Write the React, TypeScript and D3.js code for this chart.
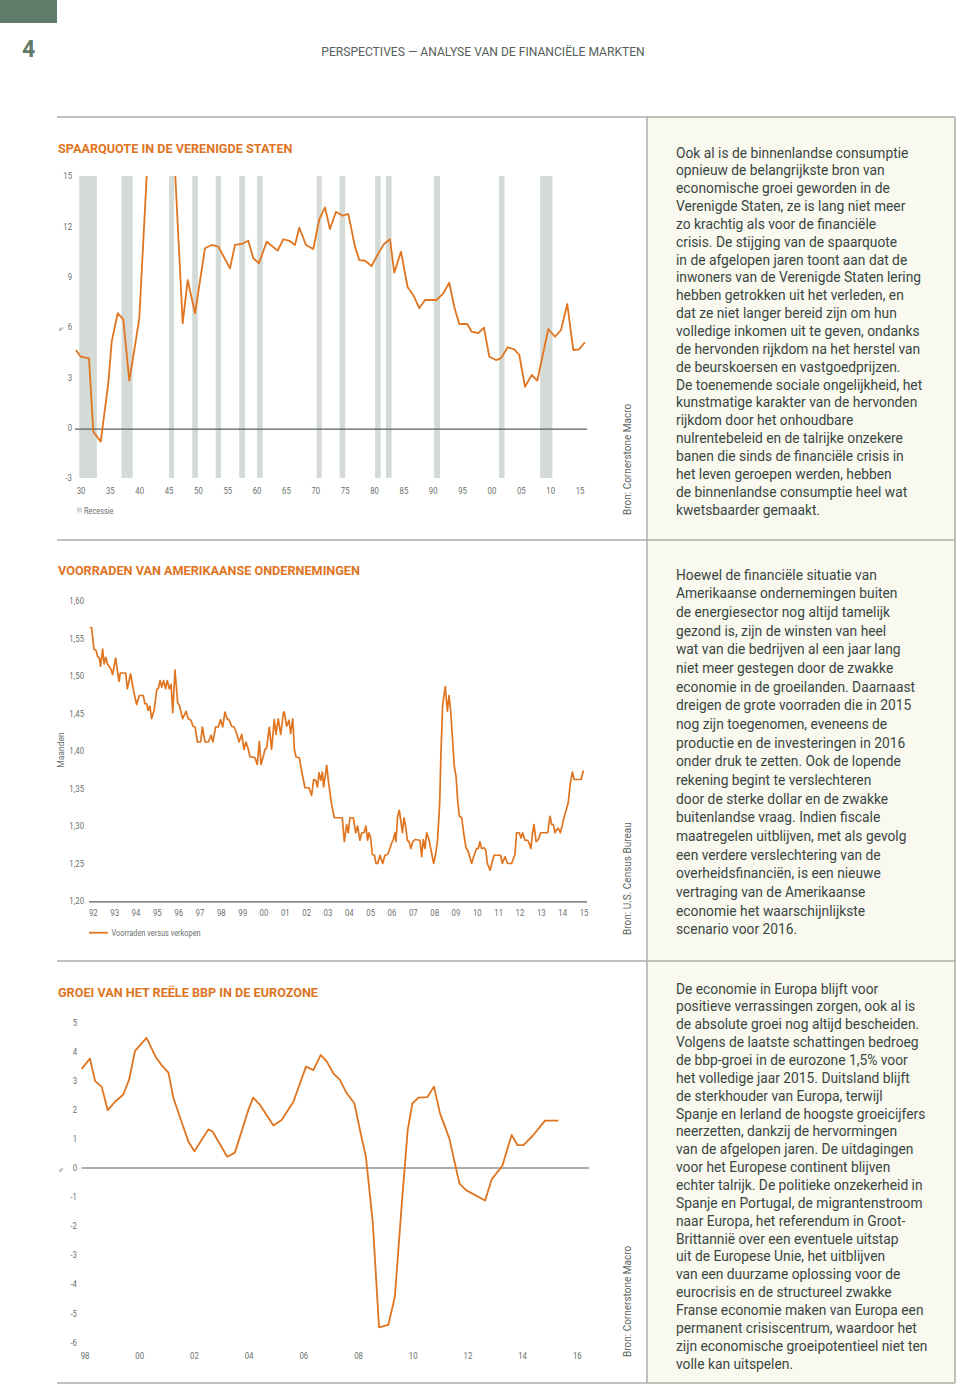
import React from "react";
import * as d3 from "d3";

// ---------- DATA ----------
// Chart 1: US personal saving rate (%), [decimal year, value]
const savingsRate: [number, number][] = [
  [1929.15, 4.63], [1929.95, 4.23], [1931.36, 4.13], [1932.1, -0.24], [1933.36, -0.83],
  [1934.65, 2.65], [1935.23, 5.13], [1936.25, 6.82], [1937.2, 6.46], [1938.23, 2.8],
  [1939.08, 4.63], [1939.93, 6.52], [1942.6, 24.5], [1944.7, 24.5], [1947.32, 6.22],
  [1948.17, 8.8], [1949.42, 6.82], [1951.12, 10.69], [1952.26, 10.89], [1953.39, 10.79],
  [1955.38, 9.5], [1956.23, 10.89], [1957.37, 10.95], [1958.5, 11.14], [1959.35, 10.1],
  [1960.32, 9.8], [1961.63, 11.08], [1963.5, 10.55], [1964.46, 11.23], [1965.48, 11.14],
  [1966.45, 10.89], [1967.18, 11.92], [1968.32, 10.89], [1969.57, 10.65], [1970.59, 12.42],
  [1971.56, 13.13], [1972.41, 11.84], [1973.43, 12.87], [1974.57, 12.63], [1975.53, 12.74],
  [1976.67, 10.79], [1977.4, 9.99], [1978.37, 9.95], [1979.51, 9.64], [1980.64, 10.39],
  [1981.61, 10.95], [1982.63, 11.23], [1983.36, 9.24], [1984.5, 10.49], [1985.64, 8.37],
  [1986.6, 7.91], [1987.62, 7.12], [1988.59, 7.61], [1990.58, 7.61], [1991.71, 8.01],
  [1992.73, 8.64], [1993.58, 7.21], [1994.43, 6.18], [1995.8, 6.18], [1996.55, 5.72],
  [1997.67, 5.63], [1998.64, 5.96], [1999.55, 4.23], [2000.69, 4.03], [2001.54, 4.14],
  [2002.68, 4.79], [2003.8, 4.67], [2004.66, 4.33], [2005.63, 2.44], [2006.77, 3.14],
  [2007.72, 2.8], [2009.6, 5.88], [2010.74, 5.42], [2011.76, 5.82], [2012.83, 7.37],
  [2013.85, 4.63], [2014.82, 4.67], [2015.84, 5.09],
];
const recessionStart = [1929.7, 1936.9, 1945.0, 1948.95, 1952.95, 1956.95, 1960.0, 1970.15, 1974.05, 1980.1, 1981.95, 1990.15, 2001.2, 2008.2];
const recessionEnd = [1932.7, 1938.8, 1945.85, 1949.9, 1953.85, 1957.95, 1960.95, 1971.0, 1975.0, 1981.05, 1982.9, 1991.15, 2002.15, 2010.3];
const savingsYTicks = [15, 12, 9, 6, 3, 0, -3];
const savingsXTicks = [1930, 1935, 1940, 1945, 1950, 1955, 1960, 1965, 1970, 1975, 1980, 1985, 1990, 1995, 2000, 2005, 2010, 2015];

// Chart 2: inventories / sales ratio (months)
const inventoryRatio: [number, number][] = [
  [1992.0, 1.565], [1992.08, 1.564], [1992.19, 1.536], [1992.29, 1.534], [1992.37, 1.526], [1992.45, 1.524],
  [1992.51, 1.513], [1992.61, 1.536], [1992.68, 1.516], [1992.76, 1.525], [1992.84, 1.516], [1992.92, 1.513],
  [1993.01, 1.509], [1993.09, 1.502], [1993.24, 1.524], [1993.32, 1.507], [1993.4, 1.493], [1993.46, 1.504],
  [1993.72, 1.504], [1993.8, 1.483], [1993.96, 1.503], [1994.09, 1.482], [1994.25, 1.462], [1994.38, 1.474],
  [1994.57, 1.474], [1994.65, 1.463], [1994.73, 1.463], [1994.81, 1.454], [1994.89, 1.46], [1994.97, 1.443],
  [1995.1, 1.455], [1995.22, 1.482], [1995.3, 1.484], [1995.38, 1.494], [1995.46, 1.485], [1995.55, 1.494],
  [1995.65, 1.483], [1995.73, 1.494], [1995.83, 1.483], [1995.91, 1.489], [1995.99, 1.451], [1996.1, 1.508],
  [1996.23, 1.464], [1996.31, 1.461], [1996.47, 1.443], [1996.63, 1.453], [1996.74, 1.443], [1996.87, 1.441],
  [1996.97, 1.433], [1997.07, 1.432], [1997.18, 1.412], [1997.34, 1.412], [1997.42, 1.432], [1997.55, 1.412],
  [1997.71, 1.412], [1997.84, 1.421], [1997.93, 1.412], [1998.06, 1.432], [1998.19, 1.432], [1998.3, 1.442],
  [1998.4, 1.432], [1998.51, 1.452], [1998.62, 1.443], [1998.72, 1.441], [1998.83, 1.433], [1998.95, 1.432],
  [1999.07, 1.424], [1999.19, 1.412], [1999.32, 1.422], [1999.43, 1.402], [1999.52, 1.412], [1999.64, 1.402],
  [1999.72, 1.392], [1999.83, 1.392], [1999.96, 1.391], [2000.07, 1.382], [2000.17, 1.413], [2000.25, 1.382],
  [2000.36, 1.393], [2000.44, 1.402], [2000.52, 1.404], [2000.65, 1.432], [2000.76, 1.402], [2000.89, 1.442],
  [2000.97, 1.422], [2001.08, 1.443], [2001.2, 1.422], [2001.33, 1.451], [2001.37, 1.452], [2001.49, 1.433],
  [2001.6, 1.441], [2001.68, 1.423], [2001.78, 1.443], [2001.86, 1.402], [2001.94, 1.392], [2002.1, 1.391],
  [2002.21, 1.373], [2002.37, 1.351], [2002.56, 1.351], [2002.69, 1.341], [2002.79, 1.362], [2002.89, 1.361],
  [2002.97, 1.352], [2003.05, 1.371], [2003.13, 1.361], [2003.21, 1.372], [2003.27, 1.352], [2003.42, 1.381],
  [2003.5, 1.36], [2003.66, 1.328], [2003.79, 1.311], [2004.17, 1.311], [2004.27, 1.279], [2004.38, 1.302],
  [2004.46, 1.291], [2004.54, 1.311], [2004.7, 1.311], [2004.82, 1.291], [2004.91, 1.3], [2005.02, 1.281],
  [2005.11, 1.291], [2005.22, 1.291], [2005.31, 1.3], [2005.39, 1.281], [2005.46, 1.291], [2005.54, 1.284],
  [2005.62, 1.262], [2005.72, 1.261], [2005.8, 1.25], [2005.88, 1.25], [2005.99, 1.261], [2006.12, 1.25],
  [2006.23, 1.261], [2006.36, 1.262], [2006.44, 1.268], [2006.55, 1.277], [2006.63, 1.282], [2006.71, 1.291],
  [2006.76, 1.279], [2006.84, 1.313], [2006.92, 1.321], [2006.99, 1.308], [2007.07, 1.291], [2007.15, 1.311],
  [2007.23, 1.299], [2007.31, 1.281], [2007.39, 1.279], [2007.48, 1.27], [2007.57, 1.279], [2007.68, 1.282],
  [2007.92, 1.281], [2008.0, 1.259], [2008.08, 1.282], [2008.16, 1.27], [2008.24, 1.291], [2008.35, 1.282],
  [2008.48, 1.264], [2008.58, 1.25], [2008.69, 1.265], [2008.77, 1.282], [2008.87, 1.331], [2008.93, 1.397],
  [2009.01, 1.46], [2009.08, 1.475], [2009.14, 1.486], [2009.24, 1.453], [2009.32, 1.474], [2009.4, 1.453],
  [2009.48, 1.42], [2009.57, 1.38], [2009.66, 1.366], [2009.74, 1.333], [2009.82, 1.313], [2009.93, 1.311],
  [2010.04, 1.288], [2010.14, 1.271], [2010.25, 1.266], [2010.41, 1.25], [2010.54, 1.262], [2010.65, 1.27],
  [2010.73, 1.27], [2010.81, 1.279], [2010.89, 1.27], [2011.01, 1.271], [2011.09, 1.268], [2011.17, 1.25],
  [2011.3, 1.241], [2011.38, 1.25], [2011.49, 1.261], [2011.65, 1.261], [2011.81, 1.261], [2011.89, 1.25],
  [2012.02, 1.259], [2012.15, 1.25], [2012.34, 1.25], [2012.5, 1.262], [2012.58, 1.291], [2012.71, 1.291],
  [2012.79, 1.284], [2012.87, 1.291], [2012.98, 1.281], [2013.11, 1.281], [2013.19, 1.277], [2013.27, 1.27],
  [2013.35, 1.291], [2013.42, 1.302], [2013.52, 1.279], [2013.63, 1.282], [2013.74, 1.291], [2013.87, 1.291],
  [2014.08, 1.291], [2014.19, 1.313], [2014.27, 1.302], [2014.35, 1.302], [2014.43, 1.291], [2014.51, 1.295],
  [2014.59, 1.297], [2014.69, 1.291], [2014.79, 1.302], [2014.88, 1.313], [2014.98, 1.322], [2015.07, 1.331],
  [2015.17, 1.357], [2015.27, 1.372], [2015.36, 1.362], [2015.69, 1.362], [2015.8, 1.374],
];
const inventoryYTicks = [1.6, 1.55, 1.5, 1.45, 1.4, 1.35, 1.3, 1.25, 1.2];
const inventoryXLabels = ["92", "93", "94", "95", "96", "97", "98", "99", "00", "01", "02", "03", "04", "05", "06", "07", "08", "09", "10", "11", "12", "13", "14", "15"];

// Chart 3: eurozone real GDP growth (% y/y)
const gdpGrowth: [number, number][] = [
  [1997.88, 3.41], [1998.18, 3.77], [1998.37, 2.99], [1998.61, 2.8], [1998.83, 1.99], [1999.1, 2.28],
  [1999.4, 2.53], [1999.61, 3.03], [1999.83, 4.03], [2000.25, 4.48], [2000.6, 3.8], [2000.8, 3.54],
  [2001.05, 3.28], [2001.23, 2.42], [2001.53, 1.59], [2001.78, 0.91], [2002.0, 0.58], [2002.51, 1.33],
  [2002.67, 1.25], [2003.2, 0.39], [2003.48, 0.53], [2003.97, 1.99], [2004.15, 2.42], [2004.4, 2.17],
  [2004.89, 1.46], [2005.19, 1.65], [2005.62, 2.28], [2005.89, 2.99], [2006.08, 3.49], [2006.35, 3.37],
  [2006.62, 3.89], [2006.84, 3.66], [2007.08, 3.26], [2007.32, 3.03], [2007.57, 2.57], [2007.85, 2.22],
  [2008.08, 1.19], [2008.27, 0.39], [2008.52, -1.85], [2008.75, -5.48], [2009.09, -5.4], [2009.33, -4.43],
  [2009.58, -1.27], [2009.8, 1.31], [2009.97, 2.22], [2010.19, 2.42], [2010.52, 2.44], [2010.76, 2.8],
  [2010.98, 1.88], [2011.32, 1.02], [2011.69, -0.53], [2011.93, -0.76], [2012.63, -1.12], [2012.87, -0.39],
  [2013.26, 0.08], [2013.6, 1.14], [2013.81, 0.79], [2014.03, 0.79], [2014.37, 1.11], [2014.82, 1.63],
  [2015.31, 1.63],
];
const gdpYTicks = [5, 4, 3, 2, 1, 0, -1, -2, -3, -4, -5, -6];
const gdpXTicks = [1998, 2000, 2002, 2004, 2006, 2008, 2010, 2012, 2014, 2016];

// Texts
const headerText = "PERSPECTIVES — ANALYSE VAN DE FINANCIËLE MARKTEN";
const chartTitles = ["SPAARQUOTE IN DE VERENIGDE STATEN", "VOORRADEN VAN AMERIKAANSE ONDERNEMINGEN", "GROEI VAN HET REËLE BBP IN DE EUROZONE"];
const sources = ["Bron: Cornerstone Macro", "Bron: U.S. Census Bureau", "Bron: Cornerstone Macro"];
const text1 = [
  "Ook al is de binnenlandse consumptie",
  "opnieuw de belangrijkste bron van",
  "economische groei geworden in de",
  "Verenigde Staten, ze is lang niet meer",
  "zo krachtig als voor de financiële",
  "crisis. De stijging van de spaarquote",
  "in de afgelopen jaren toont aan dat de",
  "inwoners van de Verenigde Staten lering",
  "hebben getrokken uit het verleden, en",
  "dat ze niet langer bereid zijn om hun",
  "volledige inkomen uit te geven, ondanks",
  "de hervonden rijkdom na het herstel van",
  "de beurskoersen en vastgoedprijzen.",
  "De toenemende sociale ongelijkheid, het",
  "kunstmatige karakter van de hervonden",
  "rijkdom door het onhoudbare",
  "nulrentebeleid en de talrijke onzekere",
  "banen die sinds de financiële crisis in",
  "het leven geroepen werden, hebben",
  "de binnenlandse consumptie heel wat",
  "kwetsbaarder gemaakt.",
];
const text2 = [
  "Hoewel de financiële situatie van",
  "Amerikaanse ondernemingen buiten",
  "de energiesector nog altijd tamelijk",
  "gezond is, zijn de winsten van heel",
  "wat van die bedrijven al een jaar lang",
  "niet meer gestegen door de zwakke",
  "economie in de groeilanden. Daarnaast",
  "dreigen de grote voorraden die in 2015",
  "nog zijn toegenomen, eveneens de",
  "productie en de investeringen in 2016",
  "onder druk te zetten. Ook de lopende",
  "rekening begint te verslechteren",
  "door de sterke dollar en de zwakke",
  "buitenlandse vraag. Indien fiscale",
  "maatregelen uitblijven, met als gevolg",
  "een verdere verslechtering van de",
  "overheidsfinanciën, is een nieuwe",
  "vertraging van de Amerikaanse",
  "economie het waarschijnlijkste",
  "scenario voor 2016.",
];
const text3 = [
  "De economie in Europa blijft voor",
  "positieve verrassingen zorgen, ook al is",
  "de absolute groei nog altijd bescheiden.",
  "Volgens de laatste schattingen bedroeg",
  "de bbp-groei in de eurozone 1,5% voor",
  "het volledige jaar 2015. Duitsland blijft",
  "de sterkhouder van Europa, terwijl",
  "Spanje en Ierland de hoogste groeicijfers",
  "neerzetten, dankzij de hervormingen",
  "van de afgelopen jaren. De uitdagingen",
  "voor het Europese continent blijven",
  "echter talrijk. De politieke onzekerheid in",
  "Spanje en Portugal, de migrantenstroom",
  "naar Europa, het referendum in Groot-",
  "Brittannië over een eventuele uitstap",
  "uit de Europese Unie, het uitblijven",
  "van een duurzame oplossing voor de",
  "eurocrisis en de structureel zwakke",
  "Franse economie maken van Europa een",
  "permanent crisiscentrum, waardoor het",
  "zijn economische groeipotentieel niet ten",
  "volle kan uitspelen.",
];

// ---------- STYLE ----------
const FONT = "Roboto, 'Noto Sans', sans-serif";
const ORANGE = "#e0741f";
const AXIS_TXT = "#6a706d";
const BODY = "#3a4642";
const RULE = "#a7afaa";
const ZERO = "#56615d";
const RECESSION = "#d4dbd7";

function BodyText({ lines, x, y0, step }: { lines: string[]; x: number; y0: number; step: number }) {
  return (
    <g fontFamily={FONT} fontSize={13.8} fill={BODY}>
      {lines.map((l, i) => (
        <text key={i} x={x} y={y0 + i * step}>{l}</text>
      ))}
    </g>
  );
}

function Source({ label, x, yBottom }: { label: string; x: number; yBottom: number }) {
  return (
    <text transform={`translate(${x},${yBottom}) rotate(-90)`} fontFamily={FONT} fontSize={10} fill="#5d6561">
      {label}
    </text>
  );
}

function SmallText({ x, y, children, anchor = "start", size = 9.5 }: any) {
  return (
    <text transform={`translate(${x},${y}) scale(0.82,1)`} textAnchor={anchor} fontFamily={FONT} fontSize={size} fill={AXIS_TXT}>
      {children}
    </text>
  );
}

export default function App() {
  // Chart 1 scales
  const x1 = d3.scaleLinear().domain([1930, 2015]).range([81, 580]);
  const y1 = d3.scaleLinear().domain([-3, 15]).range([478, 176]);
  const line1 = d3.line<[number, number]>().x((d) => x1(d[0])).y((d) => y1(d[1]));

  // Chart 2 scales
  const x2 = d3.scaleLinear().domain([1992, 2016]).range([90, 587.5]);
  const x2Labels = d3.scalePoint<string>().domain(inventoryXLabels).range([93.3, 584]);
  const y2 = d3.scaleLinear().domain([1.2, 1.6]).range([901, 601]);
  const line2 = d3.line<[number, number]>().x((d) => x2(d[0])).y((d) => y2(d[1]));

  // Chart 3 scales
  const x3 = d3.scaleLinear().domain([1998, 2016]).range([85, 577.3]);
  const y3 = d3.scaleLinear().domain([-6, 5]).range([1342.4, 1022.7]);
  const line3 = d3.line<[number, number]>().x((d) => x3(d[0])).y((d) => y3(d[1]));

  const fmt2 = (v: number) => v.toFixed(2).replace(".", ",");

  return (
    <svg width={960} height={1385} style={{ position: "absolute", left: 0, top: 0, background: "#fff" }}>
      <defs>
        <clipPath id="clip1">
          <rect x={60} y={176} width={540} height={310} />
        </clipPath>
      </defs>
      <rect x={0} y={0} width={960} height={1385} fill="#ffffff" />

      {/* Header */}
      <rect x={0} y={0} width={57} height={23} fill="#5f7b69" />
      <text x={22} y={57} fontFamily={FONT} fontWeight={700} fontSize={23} fill="#5f7b69">4</text>
      <text x={483} y={55.5} textAnchor="middle" fontFamily={FONT} fontSize={12.1} fill="#565e5a">{headerText}</text>

      {/* Right text panel */}
      <rect x={647} y={117} width={308} height={1266} fill="#f9f9f0" />
      {[117, 540, 961, 1383].map((y) => (
        <line key={y} x1={57} x2={955} y1={y} y2={y} stroke={RULE} strokeWidth={1.5} />
      ))}
      <line x1={647} x2={647} y1={117} y2={1383} stroke={RULE} strokeWidth={1.5} />
      <line x1={955} x2={955} y1={117} y2={1383} stroke={RULE} strokeWidth={1.5} />

      <BodyText lines={text1} x={676} y0={157.5} step={17.85} />
      <BodyText lines={text2} x={676} y0={579.5} step={18.68} />
      <BodyText lines={text3} x={676} y0={993.5} step={17.86} />

      {/* ---------- Chart 1 ---------- */}
      <text x={58} y={152.8} fontFamily={FONT} fontWeight={700} fontSize={12.65} fill={ORANGE}>{chartTitles[0]}</text>
      {recessionStart.map((s, i) => (
        <rect key={i} x={x1(s)} y={176} width={x1(recessionEnd[i]) - x1(s)} height={302} fill={RECESSION} />
      ))}
      <line x1={75} x2={587} y1={y1(0) + 1.5} y2={y1(0) + 1.5} stroke={ZERO} strokeWidth={1.2} />
      <path d={line1(savingsRate) || ""} fill="none" stroke={ORANGE} strokeWidth={1.8} strokeLinejoin="round" clipPath="url(#clip1)" />
      {savingsYTicks.map((t) => (
        <SmallText key={t} x={72} y={y1(t) + 3.2} anchor="end">{String(t)}</SmallText>
      ))}
      {savingsXTicks.map((t) => (
        <SmallText key={t} x={x1(t)} y={493.5} anchor="middle">{String(t).slice(2)}</SmallText>
      ))}
      <text transform={`translate(63,329) rotate(-90)`} fontFamily={FONT} fontSize={6} fill={AXIS_TXT} textAnchor="middle">%</text>
      <rect x={77} y={507.5} width={5} height={5} fill={RECESSION} />
      <SmallText x={84} y={513.5} size={9}>Recessie</SmallText>
      <Source label={sources[0]} x={631} yBottom={515} />

      {/* ---------- Chart 2 ---------- */}
      <text x={58} y={574.8} fontFamily={FONT} fontWeight={700} fontSize={12.65} fill={ORANGE}>{chartTitles[1]}</text>
      <line x1={89} x2={587} y1={y2(1.2) + 0.8} y2={y2(1.2) + 0.8} stroke={ZERO} strokeWidth={1.2} />
      <path d={line2(inventoryRatio) || ""} fill="none" stroke={ORANGE} strokeWidth={1.7} strokeLinejoin="round" />
      {inventoryYTicks.map((t) => (
        <SmallText key={t} x={84} y={y2(t) + 3.2} anchor="end">{fmt2(t)}</SmallText>
      ))}
      {inventoryXLabels.map((l) => (
        <SmallText key={l} x={x2Labels(l) || 0} y={915.5} anchor="middle">{l}</SmallText>
      ))}
      <text transform={`translate(64,750) rotate(-90)`} fontFamily={FONT} fontSize={8.5} fill={AXIS_TXT} textAnchor="middle">Maanden</text>
      <line x1={89} x2={108} y1={932.7} y2={932.7} stroke={ORANGE} strokeWidth={1.8} />
      <SmallText x={111.5} y={936} size={9}>Voorraden versus verkopen</SmallText>
      <Source label={sources[1]} x={631} yBottom={935} />

      {/* ---------- Chart 3 ---------- */}
      <text x={58} y={996.8} fontFamily={FONT} fontWeight={700} fontSize={12.65} fill={ORANGE}>{chartTitles[2]}</text>
      <line x1={81.7} x2={589} y1={y3(0)} y2={y3(0)} stroke={ZERO} strokeWidth={1.2} />
      <path d={line3(gdpGrowth) || ""} fill="none" stroke={ORANGE} strokeWidth={1.8} strokeLinejoin="round" />
      {gdpYTicks.map((t) => (
        <SmallText key={t} x={77} y={y3(t) + 3.2} anchor="end">{String(t)}</SmallText>
      ))}
      {gdpXTicks.map((t) => (
        <SmallText key={t} x={x3(t)} y={1358.5} anchor="middle">{String(t).slice(2)}</SmallText>
      ))}
      <text transform={`translate(63,1170) rotate(-90)`} fontFamily={FONT} fontSize={6} fill={AXIS_TXT} textAnchor="middle">%</text>
      <Source label={sources[2]} x={631} yBottom={1357} />
    </svg>
  );
}
